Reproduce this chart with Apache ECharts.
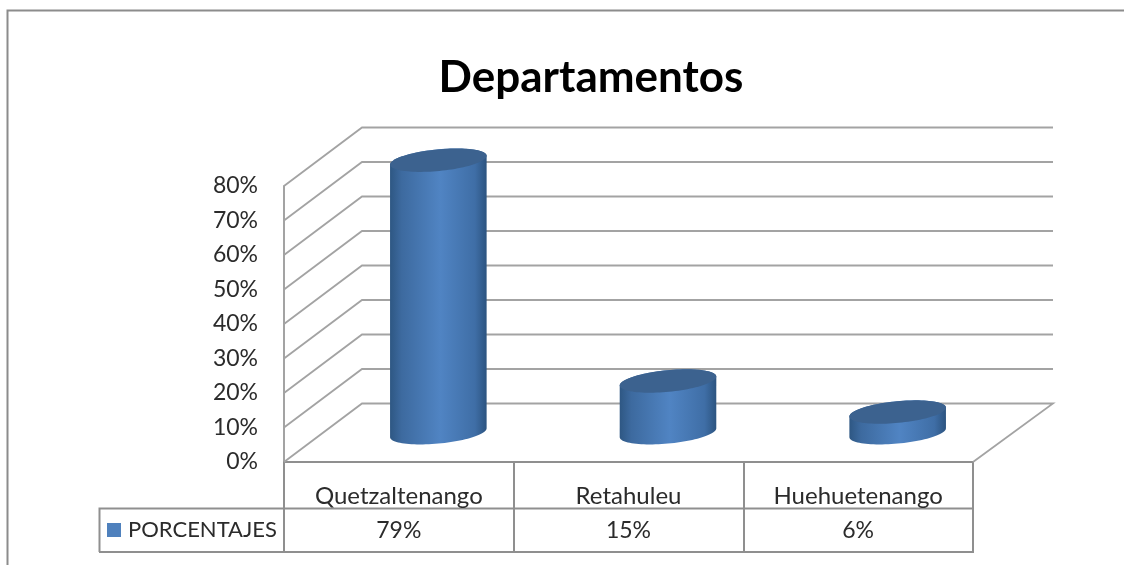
<!DOCTYPE html>
<html>
<head>
<meta charset="utf-8">
<style>html,body{margin:0;padding:0;background:#fff}#c{width:1124px;height:565px}</style>
<script src="https://cdn.jsdelivr.net/npm/echarts@6/dist/echarts.min.js"></script>
</head>
<body>
<div id="c"></div>
<script>
const categories = ['Quetzaltenango', 'Retahuleu', 'Huehuetenango'];
const porcentajes = [79, 15, 6];
const tableLabels = ['79%', '15%', '6%'];
const ticks = [0, 10, 20, 30, 40, 50, 60, 70, 80];
const seriesName = 'PORCENTAJES';
const chartTitle = 'Departamentos';

const FONT = 'Lato';
const LINE = '#a3a3a3';
const TABLE = '#8f8f8f';
const TEXT = '#2b2b2b';
const DEPTH_X = 78, DEPTH_Y = 58.5;

const sideFill = {
  type: 'linear', x: 0, y: 0, x2: 1, y2: 0,
  colorStops: [
    { offset: 0, color: '#2e5783' },
    { offset: 0.12, color: '#3d6a9f' },
    { offset: 0.52, color: '#5084c3' },
    { offset: 0.88, color: '#3f6ea6' },
    { offset: 1, color: '#2c5480' }
  ]
};

function ellipsePoint(cx, cy, a, b, phi, t) {
  return [
    cx + a * Math.cos(t) * Math.cos(phi) - b * Math.sin(t) * Math.sin(phi),
    cy + a * Math.cos(t) * Math.sin(phi) + b * Math.sin(t) * Math.cos(phi)
  ];
}

function renderCylinder(params, api) {
  const base = api.coord([api.value(0), 0]);
  const top = api.coord([api.value(0), api.value(1)]);
  const cx = base[0] + DEPTH_X / 2 + 0.5;
  const dy = DEPTH_Y / 2;
  const a = 48.5, b = 10.8, phi = -5.5 * Math.PI / 180;
  const t0 = Math.atan2(-b * Math.sin(phi), a * Math.cos(phi));
  const N = 48;
  const body = [], cap = [];
  for (let i = 0; i <= N; i++) {
    body.push(ellipsePoint(cx, base[1] - dy, a, b, phi, t0 + Math.PI * i / N));
  }
  for (let i = 0; i <= N; i++) {
    body.push(ellipsePoint(cx, top[1] - dy, a, b, phi, t0 + Math.PI + Math.PI * i / N));
  }
  for (let i = 0; i < N * 2; i++) {
    cap.push(ellipsePoint(cx, top[1] - dy, a, b, phi, Math.PI * i / N));
  }
  return {
    type: 'group',
    children: [
      { type: 'polygon', shape: { points: body }, style: { fill: sideFill } },
      { type: 'polygon', shape: { points: cap }, style: { fill: '#3c628f' } },
      {
        type: 'text',
        style: {
          x: base[0], y: base[1] + 69, text: tableLabels[params.dataIndex],
          font: '23px ' + FONT, fill: TEXT, align: 'center', verticalAlign: 'middle'
        }
      }
    ]
  };
}

function renderGridLine(params, api) {
  const value = api.value(1);
  const cs = params.coordSys;
  const y = api.coord([0, value])[1];
  const left = cs.x, right = cs.x + cs.width;
  const pts = [[left, y], [left + DEPTH_X, y - DEPTH_Y], [right + DEPTH_X + 2, y - DEPTH_Y]];
  if (value === 0) pts.push([right, y]);
  return {
    type: 'polyline',
    shape: { points: pts },
    style: { fill: 'none', stroke: LINE, lineWidth: 1.8 }
  };
}

const chart = echarts.init(document.getElementById('c'));
chart.setOption({
  animation: false,
  backgroundColor: '#fff',
  title: {
    text: chartTitle, left: 586, top: 51, textAlign: 'center',
    textStyle: { fontFamily: FONT, fontSize: 44, fontWeight: 'bold', color: '#000' }
  },
  legend: {
    data: [seriesName], left: 102, top: 514, itemWidth: 14, itemHeight: 14, itemGap: 0,
    icon: 'rect', selectedMode: false,
    textStyle: { fontFamily: FONT, fontSize: 22, color: TEXT, padding: [0, 0, 0, 2] }
  },
  grid: { left: 284, right: 151, top: 186, bottom: 103 },
  xAxis: {
    type: 'category', data: categories,
    axisLine: { show: true, lineStyle: { color: TABLE, width: 2 } },
    axisTick: { show: true, length: 90, lineStyle: { color: TABLE, width: 2 } },
    axisLabel: { fontFamily: FONT, fontSize: 24, color: TEXT, margin: 22 }
  },
  yAxis: {
    type: 'value', min: 0, max: 80, interval: 10,
    axisLine: { show: true, lineStyle: { color: LINE, width: 2 } },
    axisTick: { show: false },
    splitLine: { show: false },
    axisLabel: { fontFamily: FONT, fontSize: 23, color: TEXT, margin: 26, padding: [0, 0, 0, 0], lineHeight: 28, formatter: '{value}%' }
  },
  graphic: [
    { type: 'polyline', shape: { points: [[7.5, 565], [7.5, 10.5], [1124, 10.5]] }, style: { fill: 'none', stroke: '#8c8c8c', lineWidth: 2 } },
    { type: 'polyline', shape: { points: [[99.5, 552], [99.5, 508.5], [973, 508.5]] }, style: { fill: 'none', stroke: TABLE, lineWidth: 2 } },
    { type: 'line', shape: { x1: 99, y1: 552, x2: 974, y2: 552 }, style: { stroke: TABLE, lineWidth: 2 } }
  ],
  series: [
    {
      type: 'custom', z: 1, silent: true,
      renderItem: renderGridLine,
      data: ticks.map(t => [0, t]),
      encode: { x: 0, y: 1 }
    },
    {
      type: 'custom', name: seriesName, z: 3,
      itemStyle: { color: '#4f81bd' },
      renderItem: renderCylinder,
      data: porcentajes.map((v, i) => [i, v]),
      encode: { x: 0, y: 1 }
    }
  ]
});
</script>
</body>
</html>
